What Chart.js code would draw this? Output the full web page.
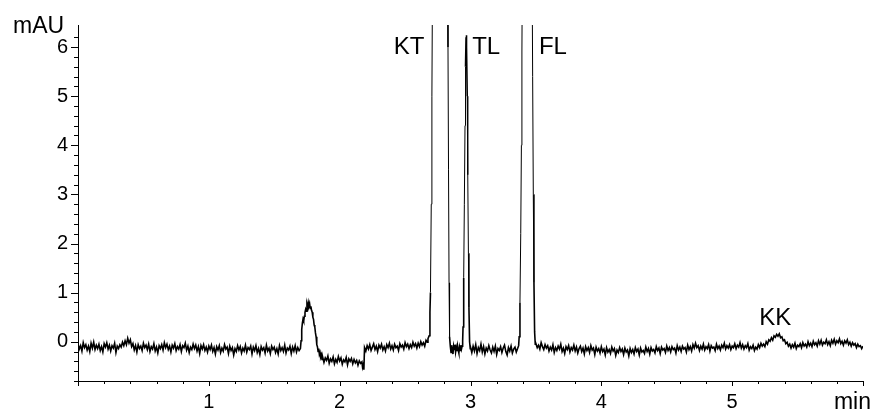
<!DOCTYPE html>
<html>
<head>
<meta charset="utf-8">
<script src="https://cdn.jsdelivr.net/npm/chart.js@4/dist/chart.umd.min.js"></script>
<style>
  html, body { margin: 0; padding: 0; background: #fff; }
  #wrap { width: 872px; height: 412px; position: relative; }
</style>
</head>
<body>
<div id="wrap"><canvas id="chart"></canvas></div>
<script>
// detector trace, [time (min), signal (mAU)], split by region
const earlyBaseline = [
  [0.00,-0.04],[0.01,-0.15],[0.02,-0.08],[0.03,-0.19],[0.04,-0.02],[0.05,-0.12],[0.06,-0.06],[0.07,-0.17],
  [0.08,-0.09],[0.09,-0.20],[0.10,-0.03],[0.11,-0.13],[0.12,-0.01],[0.13,-0.16],[0.14,-0.07],[0.15,-0.14],
  [0.16,-0.05],[0.17,-0.18],[0.18,-0.10],[0.19,-0.21],[0.20,-0.04],[0.21,-0.11],[0.22,-0.02],[0.23,-0.15],
  [0.24,-0.07],[0.25,-0.19],[0.26,-0.08],[0.27,-0.13],[0.28,-0.03],[0.29,-0.22],[0.30,-0.09],[0.31,-0.14],
  [0.32,-0.06],[0.33,-0.11],[0.34,-0.01],[0.35,-0.08],[0.36,0.02],[0.37,-0.06],[0.38,0.07],[0.39,-0.03],
  [0.40,0.04],[0.41,-0.10],[0.42,-0.04],[0.43,-0.17],[0.44,-0.08],[0.45,-0.21],[0.46,-0.06],[0.47,-0.14],
  [0.48,-0.09],[0.49,-0.18],[0.50,-0.03],[0.51,-0.12],[0.52,-0.07],[0.53,-0.16],[0.54,-0.05],[0.55,-0.20],
  [0.56,-0.10],[0.57,-0.15],[0.58,-0.04],[0.59,-0.19],[0.60,-0.11],[0.61,-0.23],[0.62,-0.08],[0.63,-0.14],
  [0.64,-0.06],[0.65,-0.17],[0.66,-0.02],[0.67,-0.12],[0.68,-0.05],[0.69,-0.16],[0.70,-0.09],[0.71,-0.21],
  [0.72,-0.07],[0.73,-0.13],[0.74,-0.04],[0.75,-0.18],[0.76,-0.10],[0.77,-0.15],[0.78,-0.06],[0.79,-0.20],
  [0.80,-0.08],[0.81,-0.12],[0.82,-0.03],[0.83,-0.17],[0.84,-0.09],[0.85,-0.22],[0.86,-0.11],[0.87,-0.16],
  [0.88,-0.05],[0.89,-0.14],[0.90,-0.07],[0.91,-0.19],[0.92,-0.10],[0.93,-0.24],[0.94,-0.08],[0.95,-0.15],
  [0.96,-0.06],[0.97,-0.18],[0.98,-0.11],[0.99,-0.21],[1.00,-0.09],[1.01,-0.16],[1.02,-0.07],[1.03,-0.20],
  [1.04,-0.12],[1.05,-0.25],[1.06,-0.10],[1.07,-0.17],[1.08,-0.08],[1.09,-0.22],[1.10,-0.13],[1.11,-0.19],
  [1.12,-0.06],[1.13,-0.15],[1.14,-0.11],[1.15,-0.24],[1.16,-0.09],[1.17,-0.18],[1.18,-0.12],[1.19,-0.27],
  [1.20,-0.14],[1.21,-0.20],[1.22,-0.08],[1.23,-0.17],[1.24,-0.10],[1.25,-0.23],[1.26,-0.13],[1.27,-0.19],
  [1.28,-0.07],[1.29,-0.21],[1.30,-0.12],[1.31,-0.16],[1.32,-0.09],[1.33,-0.25],[1.34,-0.11],[1.35,-0.18],
  [1.36,-0.08],[1.37,-0.22],[1.38,-0.14],[1.39,-0.26],[1.40,-0.10],[1.41,-0.17],[1.42,-0.12],[1.43,-0.23],
  [1.44,-0.07],[1.45,-0.19],[1.46,-0.13],[1.47,-0.24],[1.48,-0.09],[1.49,-0.16],[1.50,-0.11],[1.51,-0.22],
  [1.52,-0.14],[1.53,-0.25],[1.54,-0.08],[1.55,-0.18],[1.56,-0.12],[1.57,-0.20],[1.58,-0.07],[1.59,-0.23],
  [1.60,-0.13],[1.61,-0.17],[1.62,-0.09],[1.63,-0.24],[1.64,-0.11],[1.65,-0.19],[1.66,-0.08],[1.67,-0.21],
  [1.68,-0.12],[1.69,-0.18],[1.70,-0.14]
];

// unretained bump, negative dip and the step back up
const solventRegion = [
  [1.705,0.02],[1.710,0.25],[1.715,0.38],[1.720,0.46],[1.725,0.42],[1.730,0.52],[1.735,0.60],[1.740,0.66],
  [1.745,0.62],[1.750,0.76],[1.755,0.70],[1.760,0.80],[1.765,0.73],[1.770,0.78],[1.775,0.68],[1.780,0.72],
  [1.785,0.64],[1.790,0.60],[1.795,0.50],[1.800,0.46],[1.805,0.34],[1.810,0.30],[1.815,0.18],[1.820,0.10],
  [1.825,-0.06],[1.830,-0.10],[1.835,-0.20],[1.840,-0.14],[1.845,-0.26],[1.850,-0.22],[1.855,-0.31],
  [1.860,-0.27],[1.865,-0.36],[1.87,-0.31],[1.88,-0.42],[1.89,-0.33],[1.90,-0.38],[1.91,-0.29],[1.92,-0.44],
  [1.93,-0.35],[1.94,-0.40],[1.95,-0.31],[1.96,-0.45],[1.97,-0.36],[1.98,-0.42],[1.99,-0.30],[2.00,-0.39],
  [2.01,-0.33],[2.02,-0.46],[2.03,-0.37],[2.04,-0.41],[2.05,-0.32],[2.06,-0.47],[2.07,-0.35],[2.08,-0.40],
  [2.09,-0.34],[2.10,-0.45],[2.11,-0.36],[2.12,-0.43],[2.13,-0.38],[2.14,-0.48],[2.15,-0.39],[2.16,-0.44],
  [2.17,-0.41],[2.175,-0.52],[2.18,-0.47],[2.185,-0.57],[2.19,-0.12],[2.20,-0.19],[2.21,-0.08],[2.22,-0.15],
  [2.23,-0.06],[2.24,-0.18],[2.25,-0.11],[2.26,-0.04],[2.27,-0.16],[2.28,-0.09],[2.29,-0.20],[2.30,-0.07],
  [2.31,-0.13],[2.32,-0.05],[2.33,-0.17],[2.34,-0.10],[2.35,-0.19],[2.36,-0.06],[2.37,-0.12],[2.38,-0.03],
  [2.39,-0.15],[2.40,-0.08],[2.41,-0.17],[2.42,-0.05],[2.43,-0.12],[2.44,-0.09],[2.45,-0.18],[2.46,-0.04],
  [2.47,-0.11],[2.48,-0.07],[2.49,-0.15],[2.50,-0.02],[2.51,-0.10],[2.52,-0.05],[2.53,-0.14],[2.54,-0.06],
  [2.55,-0.12],[2.56,-0.01],[2.57,-0.09],[2.58,-0.04],[2.59,-0.13],[2.60,-0.03],[2.61,-0.10],[2.62,0.00],
  [2.63,-0.07],[2.64,-0.02],[2.65,-0.09],[2.66,0.03],[2.67,-0.01],[2.675,0.06]
];

// KT and TL
const ktTlRegion = [
  [2.684,0.12],[2.690,0.6],[2.694,1.0],[2.700,2.8],[2.705,5.0],[2.710,7.6],[2.72,14],[2.74,25],[2.76,30],
  [2.78,27],[2.80,18],[2.815,11],[2.823,8.0],[2.828,6.0],[2.832,3.5],[2.836,1.2],[2.840,0.1],[2.846,-0.10],
  [2.851,-0.22],[2.856,-0.07],[2.861,-0.18],[2.866,-0.25],[2.871,-0.09],[2.876,-0.16],[2.881,-0.06],
  [2.886,-0.21],[2.891,-0.12],[2.896,-0.19],[2.901,-0.08],[2.906,-0.17],[2.911,-0.23],[2.916,-0.11],
  [2.921,-0.18],[2.926,-0.07],[2.931,-0.15],[2.936,-0.09],[2.940,0.02],[2.943,0.3],[2.948,1.3],[2.953,2.8],
  [2.958,4.4],[2.962,5.6],[2.966,6.2],[2.968,6.24],[2.971,6.0],[2.975,5.0],[2.979,3.4],[2.984,1.8],
  [2.988,0.7],[2.993,0.0],[2.998,-0.14]
];

// FL
const flRegion = [
  [3.00,-0.11],[3.01,-0.22],[3.02,-0.09],[3.03,-0.19],[3.04,-0.06],[3.05,-0.24],[3.06,-0.12],[3.07,-0.18],
  [3.08,-0.05],[3.09,-0.21],[3.10,-0.10],[3.11,-0.25],[3.12,-0.13],[3.13,-0.19],[3.14,-0.08],[3.15,-0.17],
  [3.16,-0.23],[3.17,-0.11],[3.18,-0.20],[3.19,-0.09],[3.20,-0.26],[3.21,-0.14],[3.22,-0.18],[3.23,-0.10],
  [3.24,-0.22],[3.25,-0.13],[3.26,-0.07],[3.27,-0.20],[3.28,-0.27],[3.29,-0.12],[3.30,-0.19],[3.31,-0.09],
  [3.32,-0.23],[3.33,-0.15],[3.34,-0.11],[3.35,-0.21],[3.36,-0.14],[3.368,-0.08],[3.372,0.1],[3.378,0.8],
  [3.384,2.2],[3.389,4.0],[3.393,5.9],[3.397,8.2],[3.405,15],[3.42,28],[3.44,32],[3.455,22],[3.465,12],
  [3.470,8.0],[3.475,5.4],[3.480,3.0],[3.485,1.2],[3.490,0.2],[3.495,-0.05]
];

// tail, including KK
const lateBaseline = [
  [3.50,-0.04],[3.51,-0.12],[3.52,-0.07],[3.53,-0.15],[3.54,-0.02],[3.55,-0.10],[3.56,-0.16],[3.57,-0.06],
  [3.58,-0.13],[3.59,-0.08],[3.60,-0.19],[3.61,-0.11],[3.62,-0.17],[3.63,-0.06],[3.64,-0.22],[3.65,-0.12],
  [3.66,-0.18],[3.67,-0.09],[3.68,-0.15],[3.69,-0.05],[3.70,-0.20],[3.71,-0.13],[3.72,-0.24],[3.73,-0.10],
  [3.74,-0.16],[3.75,-0.08],[3.76,-0.21],[3.77,-0.12],[3.78,-0.17],[3.79,-0.07],[3.80,-0.19],[3.81,-0.11],
  [3.82,-0.23],[3.83,-0.14],[3.84,-0.09],[3.85,-0.20],[3.86,-0.13],[3.87,-0.25],[3.88,-0.10],[3.89,-0.18],
  [3.90,-0.12],[3.91,-0.22],[3.92,-0.08],[3.93,-0.17],[3.94,-0.13],[3.95,-0.26],[3.96,-0.11],[3.97,-0.19],
  [3.98,-0.14],[3.99,-0.23],[4.00,-0.10],[4.01,-0.20],[4.02,-0.15],[4.03,-0.27],[4.04,-0.12],[4.05,-0.21],
  [4.06,-0.16],[4.07,-0.24],[4.08,-0.11],[4.09,-0.19],[4.10,-0.14],[4.11,-0.28],[4.12,-0.17],[4.13,-0.22],
  [4.14,-0.12],[4.15,-0.20],[4.16,-0.15],[4.17,-0.26],[4.18,-0.13],[4.19,-0.21],[4.20,-0.17],[4.21,-0.29],
  [4.22,-0.14],[4.23,-0.22],[4.24,-0.16],[4.25,-0.25],[4.26,-0.12],[4.27,-0.20],[4.28,-0.15],[4.29,-0.27],
  [4.30,-0.13],[4.31,-0.21],[4.32,-0.18],[4.33,-0.24],[4.34,-0.11],[4.35,-0.20],[4.36,-0.14],[4.37,-0.25],
  [4.38,-0.12],[4.39,-0.19],[4.40,-0.16],[4.41,-0.23],[4.42,-0.10],[4.43,-0.18],[4.44,-0.13],[4.45,-0.24],
  [4.46,-0.11],[4.47,-0.17],[4.48,-0.14],[4.49,-0.22],[4.50,-0.09],[4.51,-0.18],[4.52,-0.12],[4.53,-0.21],
  [4.54,-0.10],[4.55,-0.16],[4.56,-0.13],[4.57,-0.23],[4.58,-0.08],[4.59,-0.17],[4.60,-0.11],[4.61,-0.20],
  [4.62,-0.09],[4.63,-0.15],[4.64,-0.12],[4.65,-0.21],[4.66,-0.07],[4.67,-0.16],[4.68,-0.10],[4.69,-0.19],
  [4.70,-0.06],[4.71,-0.13],[4.72,-0.03],[4.73,-0.12],[4.74,-0.08],[4.75,-0.18],[4.76,-0.09],[4.77,-0.15],
  [4.78,-0.05],[4.79,-0.17],[4.80,-0.10],[4.81,-0.14],[4.82,-0.06],[4.83,-0.19],[4.84,-0.08],[4.85,-0.13],
  [4.86,-0.11],[4.87,-0.18],[4.88,-0.05],[4.89,-0.14],[4.90,-0.09],[4.91,-0.17],[4.92,-0.07],[4.93,-0.12],
  [4.94,-0.03],[4.95,-0.15],[4.96,-0.08],[4.97,-0.13],[4.98,-0.06],[4.99,-0.16],[5.00,-0.09],[5.01,-0.12],
  [5.02,-0.04],[5.03,-0.14],[5.04,-0.07],[5.05,-0.11],[5.06,-0.02],[5.07,-0.13],[5.08,-0.06],[5.09,-0.15],
  [5.10,-0.08],[5.11,-0.12],[5.12,-0.04],[5.13,-0.17],[5.14,-0.10],[5.15,-0.14],[5.16,-0.07],[5.17,-0.18],
  [5.18,-0.11],[5.19,-0.15],[5.20,-0.06],[5.21,-0.12],[5.22,-0.03],[5.23,-0.09],[5.24,-0.05],[5.25,-0.10],
  [5.26,0.00],[5.27,-0.05],[5.28,0.04],[5.29,0.01],[5.30,0.08],[5.31,0.03],[5.32,0.12],[5.33,0.09],
  [5.34,0.15],[5.35,0.11],[5.36,0.16],[5.37,0.08],[5.38,0.10],[5.39,0.02],[5.40,0.04],[5.41,-0.04],
  [5.42,-0.01],[5.43,-0.09],[5.44,-0.05],[5.45,-0.13],[5.46,-0.06],[5.47,-0.11],[5.48,-0.03],[5.49,-0.14],
  [5.50,-0.07],[5.51,-0.10],[5.52,-0.04],[5.53,-0.12],[5.54,-0.02],[5.55,-0.09],[5.56,-0.05],[5.57,-0.11],
  [5.58,0.00],[5.59,-0.08],[5.60,-0.03],[5.61,-0.10],[5.62,0.01],[5.63,-0.06],[5.64,-0.02],[5.65,-0.09],
  [5.66,0.02],[5.67,-0.05],[5.68,0.03],[5.69,-0.07],[5.70,-0.01],[5.71,-0.04],[5.72,0.04],[5.73,-0.06],
  [5.74,0.00],[5.75,-0.08],[5.76,0.03],[5.77,-0.03],[5.78,0.05],[5.79,-0.05],[5.80,0.02],[5.81,-0.02],
  [5.82,0.06],[5.83,-0.04],[5.84,0.01],[5.85,-0.07],[5.86,0.02],[5.87,-0.03],[5.88,0.04],[5.89,-0.06],
  [5.90,-0.01],[5.91,-0.09],[5.92,-0.02],[5.93,-0.07],[5.94,-0.04],[5.95,-0.12],[5.96,-0.05],[5.97,-0.10],
  [5.98,-0.08],[5.99,-0.14],[6.00,-0.09]
];

// peak names and where their labels sit (min, mAU)
const peakNames = ['KT', 'TL', 'FL', 'KK'];
const peakLabelTimes = [2.53, 3.12, 3.63, 5.33];
const peakLabelLevels = [5.86, 5.86, 5.86, 0.35];

const xLabels = [1, 2, 3, 4, 5];
const yLabels = [0, 1, 2, 3, 4, 5, 6];

const FONT = "'Liberation Sans', Arial, sans-serif";

const trace = [].concat(earlyBaseline, solventRegion, ktTlRegion, flRegion, lateBaseline)
  .map(p => ({ x: p[0], y: p[1] }));

const onStep = v => Math.abs(v * 5 - Math.round(v * 5)) < 1e-6;
const isWhole = v => Math.abs(v - Math.round(v)) < 1e-6;

// tick marks: long on whole units, short on the 0.2 steps
const axisTicks = {
  id: 'axisTicks',
  afterDraw(chart) {
    const ctx = chart.ctx;
    const xs = chart.scales.x, ys = chart.scales.y;
    ctx.save();
    ctx.strokeStyle = '#000';
    ctx.lineWidth = 1;
    ctx.beginPath();
    xs.ticks.forEach(t => {
      if (!onStep(t.value)) return;
      const px = Math.round(xs.getPixelForValue(t.value)) + 0.5;
      const len = isWhole(t.value) ? 5 : 3;
      ctx.moveTo(px, xs.top);
      ctx.lineTo(px, xs.top + len);
    });
    ys.ticks.forEach(t => {
      if (!onStep(t.value)) return;
      const py = Math.round(ys.getPixelForValue(t.value)) + 0.5;
      const len = isWhole(t.value) ? 7 : 4;
      ctx.moveTo(ys.right, py);
      ctx.lineTo(ys.right - len, py);
    });
    ctx.stroke();
    ctx.restore();
  }
};

// unit labels and peak names
const annotations = {
  id: 'annotations',
  afterDraw(chart) {
    const ctx = chart.ctx;
    const xs = chart.scales.x, ys = chart.scales.y;
    ctx.save();
    ctx.fillStyle = '#000';
    ctx.textBaseline = 'alphabetic';
    ctx.font = '23px ' + FONT;
    ctx.textAlign = 'left';
    ctx.fillText('mAU', 13, 33);
    ctx.textAlign = 'right';
    ctx.fillText('min', 871, 409);
    ctx.font = '24px ' + FONT;
    ctx.textAlign = 'center';
    peakNames.forEach((name, i) => {
      ctx.fillText(name, xs.getPixelForValue(peakLabelTimes[i]), ys.getPixelForValue(peakLabelLevels[i]));
    });
    ctx.restore();
  }
};

new Chart(document.getElementById('chart'), {
  type: 'line',
  data: {
    datasets: [{
      data: trace,
      borderColor: '#000',
      borderWidth: 1.6,
      // thinner stroke on the steep peak flanks, heavier on the noisy baseline
      segment: {
        borderWidth: c => Math.abs(c.p1.parsed.y - c.p0.parsed.y) > 1 ? 1 : 1.6
      },
      pointRadius: 0,
      tension: 0,
      fill: false
    }]
  },
  options: {
    responsive: true,
    maintainAspectRatio: false,
    animation: false,
    layout: { padding: { top: 25, right: 7, left: 0, bottom: 0 } },
    plugins: { legend: { display: false }, tooltip: { enabled: false } },
    scales: {
      x: {
        type: 'linear',
        min: 0,
        max: 6,
        afterFit: s => { s.height = 31; },
        border: { color: '#000', width: 1 },
        grid: { drawOnChartArea: false, drawTicks: false },
        ticks: {
          stepSize: 0.2,
          autoSkip: false,
          maxRotation: 0,
          padding: 9,
          color: '#000',
          font: { family: FONT, size: 20 },
          callback: v => xLabels.some(l => Math.abs(l - v) < 1e-6) ? String(Math.round(v)) : ''
        }
      },
      y: {
        min: -0.8,
        max: 6.45,
        afterFit: s => { s.width = 78; },
        border: { color: '#000', width: 1 },
        grid: { drawOnChartArea: false, drawTicks: false },
        ticks: {
          stepSize: 0.2,
          autoSkip: false,
          padding: 10,
          color: '#000',
          font: { family: FONT, size: 20 },
          callback: v => yLabels.some(l => Math.abs(l - v) < 1e-6) ? String(Math.round(v)) : ''
        }
      }
    }
  },
  plugins: [axisTicks, annotations]
});
</script>
</body>
</html>
